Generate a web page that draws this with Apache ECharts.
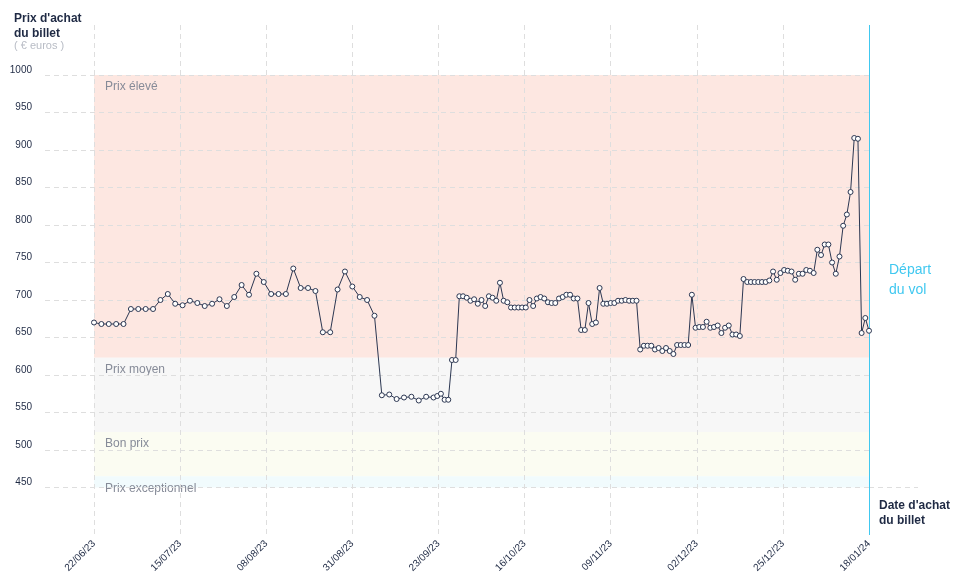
<!DOCTYPE html>
<html><head><meta charset="utf-8">
<script src="https://cdn.jsdelivr.net/npm/echarts@6/dist/echarts.min.js"></script>
<style>html,body{margin:0;padding:0;background:#fff}#c{width:958px;height:585px}</style>
</head><body><div id="c"></div>
<script>
// ---- data ----
const tickLabels = ['22/06/23','15/07/23','08/08/23','31/08/23','23/09/23','16/10/23','09/11/23','02/12/23','25/12/23','18/01/24'];
const totalDays = 210; // 22/06/23 -> 18/01/24
const days = [
  0,2,4,6,8,10,12,14,16,18,20,22,24,26,28,30,32,34,36,38,40,42,44,46,48,50,52,54,56,58,60,62,64,66,68,70,72,74,76,78,80,82,84,86,88,90,92,
  93,94,95,96,97,98,99,100,101,102,103,104,105,106,107,108,109,110,111,112,113,114,115,116,117,118,119,120,121,122,123,124,125,126,127,128,129,130,
  131,132,133,134,135,136,137,138,139,140,141,142,143,144,145,146,147,148,149,150,151,152,153,154,155,156,157,158,159,160,161,162,163,164,165,166,167,168,169,170,
  171,172,173,174,175,176,177,178,179,180,181,182,183,184,185,186,187,188,189,190,191,192,193,194,195,196,197,198,199,200,201,202,203,204,205,206,207,208,209,210
];
const prices = [
  670,668,668,668,668,688,688,688,688,700,708,695,693,699,696,692,695,701,692,704,720,707,735,724,708,708,708,742,716,716,712,657,657,714,738,718,704,700,679,573,574,568,570,571,566,571,570,
  572,575,567,567,620,620,705,705,703,699,701,695,700,692,705,703,699,723,699,697,690,690,690,690,690,700,692,702,704,702,697,696,696,702,704,707,707,702,
  702,660,660,696,668,670,716,695,695,696,696,699,699,700,699,699,699,634,639,639,639,634,636,632,636,632,628,640,640,640,640,707,663,664,664,671,663,664,666,656,
  663,666,654,654,652,728,724,724,724,724,724,724,726,738,727,736,740,739,738,727,735,735,740,739,736,767,760,774,774,750,735,758,799,814,844,916,915,656,676,659
];
const bandNames = ['Prix élevé','Prix moyen','Bon prix','Prix exceptionnel'];
const bandTop = [1000,623,524,465];
const bandBottom = [623,524,465,450];
const yMin = 450, yMax = 1000, yStep = 50;

// ---- styles / layout ----
const bandColors = ['#fde7e1','#f7f7f7','#fbfcf2','#f1fbfd'];
const FONT = "'Liberation Sans', Arial, sans-serif";
const navy = '#1f2a44';
const gridGray = '#dedede';
const cyan = '#40c8f0';
const W = 958, H = 585;
const axisX = 45, plotL = 94, plotR = 869, plotTop = 75, plotBot = 487.5, vTop = 25, vBot = 535;
const HPD = 24; // x unit = hours
const hoursPerPx = totalDays * HPD / (plotR - plotL);
const xMin0 = -(plotL - axisX) * hoursPerPx;
const tickInterval = totalDays * HPD / (tickLabels.length - 1);

const seriesData = days.map((d, i) => [d * HPD, prices[i]]);

const chart = echarts.init(document.getElementById('c'), null, {renderer: 'canvas'});
chart.setOption({
  animation: false,
  backgroundColor: '#fff',
  textStyle: {fontFamily: FONT},
  grid: [
    {left: axisX, right: W - plotR, top: plotTop, bottom: H - plotBot},
    {left: plotL, right: W - plotR, top: vTop, bottom: H - vBot}
  ],
  xAxis: [
    {type: 'value', gridIndex: 0, min: xMin0, max: totalDays * HPD, show: false, splitLine: {show: false}},
    {type: 'value', gridIndex: 1, min: 0, max: totalDays * HPD, interval: tickInterval, z: 3,
     axisLine: {show: false}, axisTick: {show: false},
     splitLine: {show: true, lineStyle: {color: gridGray, type: [5, 4], width: 1}},
     axisLabel: {rotate: 45, fontSize: 10, color: navy, margin: 7, fontFamily: FONT,
       formatter: v => tickLabels[Math.round(v / tickInterval)] || ''}}
  ],
  yAxis: [
    {type: 'value', gridIndex: 0, min: yMin, max: yMax, interval: yStep, z: 3,
     axisLine: {show: false}, axisTick: {show: false},
     splitLine: {show: true, lineStyle: {color: gridGray, type: [5, 4], width: 1}},
     axisLabel: {fontSize: 10, color: navy, margin: 13, verticalAlign: 'bottom', fontFamily: FONT,
       formatter: v => String(v)}},
    {type: 'value', gridIndex: 1, min: 0, max: 1, show: false, splitLine: {show: false}}
  ],
  series: [
    {
      type: 'line', xAxisIndex: 0, yAxisIndex: 0, data: [], z: 1, silent: true,
      markArea: {
        silent: true, z: 1,
        data: bandNames.map((n, i) => [
          {name: n, xAxis: 0, yAxis: bandTop[i], itemStyle: {color: bandColors[i]}},
          {xAxis: totalDays * HPD, yAxis: bandBottom[i]}
        ]),
        label: {show: true, position: 'insideTopLeft', distance: 5, offset: [6, 1], color: '#868b98', fontSize: 12, fontFamily: FONT}
      }
    },
    {
      type: 'line', xAxisIndex: 0, yAxisIndex: 0, z: 5, data: seriesData,
      symbol: 'circle', symbolSize: 5, showAllSymbol: true,
      lineStyle: {color: '#2c3752', width: 1},
      itemStyle: {color: '#fff', borderColor: '#2c3752', borderWidth: 1}
    },
    {
      type: 'line', xAxisIndex: 1, yAxisIndex: 1, data: [], z: 4, color: cyan,
      markLine: {
        silent: true, symbol: 'none', z: 4, label: {show: false},
        lineStyle: {color: cyan, type: 'solid', width: 1, opacity: 1},
        data: [{xAxis: totalDays * HPD, lineStyle: {color: cyan, type: 'solid', width: 1}}]
      }
    }
  ]
});

const y450 = chart.convertToPixel({yAxisIndex: 0}, yMin);
chart.setOption({
  graphic: [
    {type: 'text', left: 14, top: 11, style: {text: "Prix d'achat\ndu billet", font: 'bold 12px ' + FONT, fill: navy, lineHeight: 15}},
    {type: 'text', left: 14, top: 40, style: {text: '( € euros )', font: '11px ' + FONT, fill: '#b8bcc5'}},
    {type: 'text', left: 879, top: 498, style: {text: "Date d'achat\ndu billet", font: 'bold 12px ' + FONT, fill: navy, lineHeight: 15}},
    {type: 'text', left: 889, top: 260, style: {text: 'Départ\ndu vol', font: '14px ' + FONT, fill: cyan, lineHeight: 20}},
    {type: 'line', z: 3, shape: {x1: plotR, y1: y450, x2: 918, y2: y450}, style: {stroke: gridGray, lineWidth: 1, lineDash: [5, 4]}}
  ]
});
</script>
</body></html>
